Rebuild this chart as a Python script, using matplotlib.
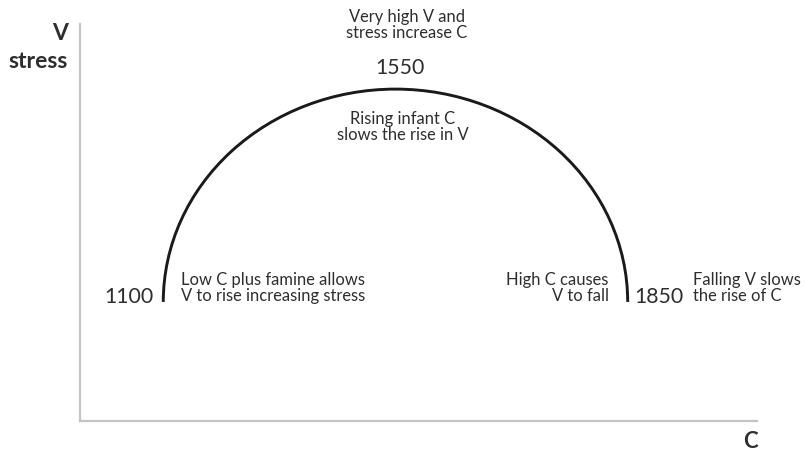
import matplotlib
matplotlib.use('Agg')
import matplotlib.pyplot as plt
from matplotlib.patches import Arc

# cycle data (C on x, V/stress on y, both on a 0-100 schematic scale)
years = ['1100', '1550', '1850']
c_start = 12.3
c_end = 80.9
v_base = 30.0
v_peak = 83.6

notes_left = 'Low C plus famine allows\nV to rise increasing stress'
notes_top = 'Very high V and\nstress increase C'
notes_inside = 'Rising infant C\nslows the rise in V'
notes_fall = 'High C causes\nV to fall'
notes_right = 'Falling V slows\nthe rise of C'

plt.rcParams['font.family'] = ['Lato', 'DejaVu Sans']
txt = '#2e2e2e'
fs = 11.9

fig = plt.figure(figsize=(8.05, 4.53), dpi=100)
ax = fig.add_axes([80/805, 1-421/453, 677/805, 397/453])
ax.set_xlim(0, 100)
ax.set_ylim(0, 100)
for s in ['top', 'right']:
    ax.spines[s].set_visible(False)
for s in ['left', 'bottom']:
    ax.spines[s].set_color('#c4c4c4')
    ax.spines[s].set_linewidth(1.6)
ax.set_xticks([])
ax.set_yticks([])

c_mid = (c_start + c_end) / 2
arc = Arc((c_mid, v_base), c_end - c_start, 2*(v_peak - v_base),
          theta1=0, theta2=180, color='#1a1a1a', lw=2.1)
ax.add_patch(arc)

# year labels
ax.text(c_start - 1.4, v_base + 1.3, years[0], ha='right', va='center', fontsize=15.3, color=txt)
ax.text(c_mid + 0.7, v_peak + 5.3, years[1], ha='center', va='center', fontsize=15.3, color=txt)
ax.text(c_end + 0.9, v_base + 1.3, years[2], ha='left', va='center', fontsize=15.3, color=txt)

# notes
kw = dict(fontsize=fs, color=txt, linespacing=1.0, va='center')
ax.text(c_start + 2.6, v_base + 3.5, notes_left, ha='left', **kw)
ax.text(c_mid + 1.7, v_peak + 16.2, notes_top, ha='center', **kw)
ax.text(c_mid + 1.1, v_peak - 9.6, notes_inside, ha='center', **kw)
ax.text(c_end - 2.8, v_base + 3.5, notes_fall, ha='right', multialignment='right', **kw)
ax.text(c_end + 9.6, v_base + 3.5, notes_right, ha='left', **kw)

# axis labels
fig.text(68/805, 1-33/453, 'V', ha='right', va='center', fontsize=16.5, fontweight='bold', color=txt)
fig.text(68/805, 1-62/453, 'stress', ha='right', va='center', fontsize=16.5, fontweight='bold', color=txt)
fig.text(750/805, 1-442/453, 'C', ha='center', va='center', fontsize=16, fontweight='bold', color=txt)

fig.savefig('out.png', dpi=100)
